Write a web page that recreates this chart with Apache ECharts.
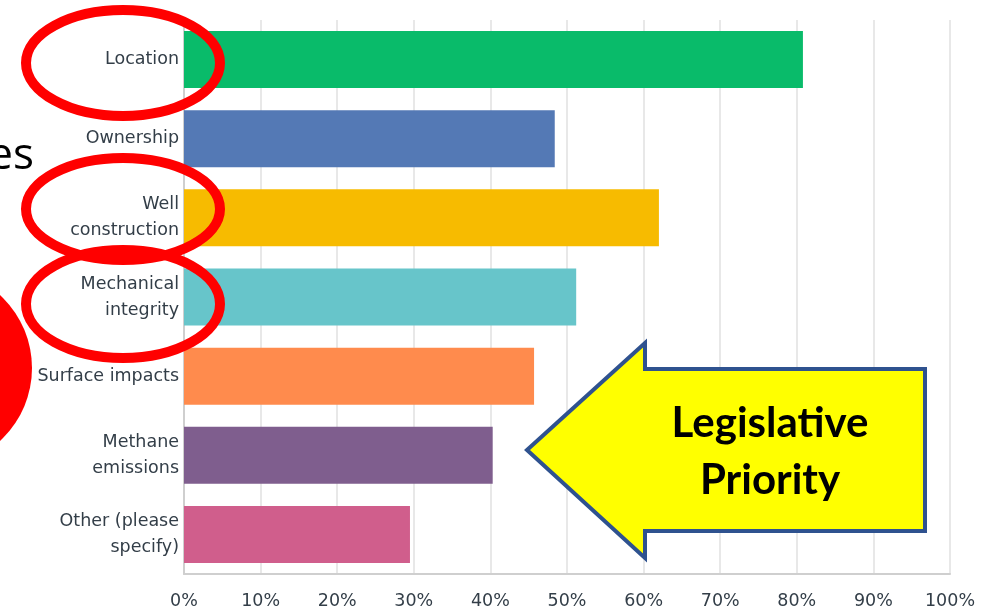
<!DOCTYPE html>
<html>
<head>
<meta charset="utf-8">
<script src="https://cdn.jsdelivr.net/npm/echarts@6/dist/echarts.min.js"></script>
<style>html,body{margin:0;padding:0;background:#fff;}#c{width:990px;height:612px;}</style>
</head>
<body>
<div id="c"></div>
<script>
const categories = ["Location", "Ownership", "Well\nconstruction", "Mechanical\nintegrity", "Surface impacts", "Methane\nemissions", "Other (please\nspecify)"];
const values = [80.8, 48.4, 62.0, 51.2, 45.7, 40.3, 29.5];
const palette = ["#09BB6A", "#5479B5", "#F7BB00", "#67C5CA", "#FF8B4D", "#7F5E8E", "#D05E8C"];
const xTicks = [0, 10, 20, 30, 40, 50, 60, 70, 80, 90, 100];

const chart = echarts.init(document.getElementById('c'), null, {renderer: 'canvas'});
const labelFont = '"DejaVu Sans", sans-serif';
const redRing = (cx, cy, rx, ry) => ({
  type: 'ellipse', z: 100,
  shape: {cx: cx, cy: cy, rx: rx, ry: ry},
  style: {fill: 'none', stroke: '#FF0000', lineWidth: 10}
});
chart.setOption({
  animation: false,
  grid: {left: 184, right: 40, top: 20, bottom: 38},
  xAxis: {
    type: 'value', min: xTicks[0], max: xTicks[xTicks.length - 1], interval: 10,
    axisLabel: {formatter: '{value}%', color: '#333E48', fontSize: 17.5, fontFamily: labelFont, margin: 18},
    axisLine: {show: true, lineStyle: {color: '#CFCFCF', width: 2}},
    axisTick: {show: false},
    splitLine: {lineStyle: {color: '#E8E8E8', width: 2}}
  },
  yAxis: {
    type: 'category', data: categories, inverse: true,
    axisLabel: {color: '#333E48', fontSize: 17.5, fontFamily: labelFont, lineHeight: 26, margin: 5, align: 'right'},
    axisLine: {show: true, lineStyle: {color: '#CFCFCF', width: 2}},
    axisTick: {show: false}
  },
  series: [{
    type: 'bar', barWidth: '72%',
    data: values.map((v, i) => ({value: v, itemStyle: {color: palette[i]}}))
  }],
  graphic: [
    {type: 'circle', z: 100, shape: {cx: -67, cy: 368, r: 99}, style: {fill: '#FF0000'}},
    {type: 'text', z: 100, style: {text: 'es', x: 34, y: 134, align: 'right', verticalAlign: 'top', font: '44px "Open Sans", sans-serif', fill: '#000'}},
    redRing(123, 63, 97, 53),
    redRing(123, 209, 97, 51),
    redRing(123, 304, 97, 54),
    {type: 'polygon', z: 100,
      shape: {points: [[527, 450], [645, 343], [645, 369], [925, 369], [925, 531], [645, 531], [645, 558]]},
      style: {fill: '#FFFF00', stroke: '#2F528F', lineWidth: 4}},
    {type: 'text', z: 101, style: {text: 'Legislative\nPriority', x: 770, y: 452, align: 'center', verticalAlign: 'middle',
      font: 'bold 42px Lato, sans-serif', lineHeight: 57, fill: '#000'}}
  ]
});
</script>
</body>
</html>
